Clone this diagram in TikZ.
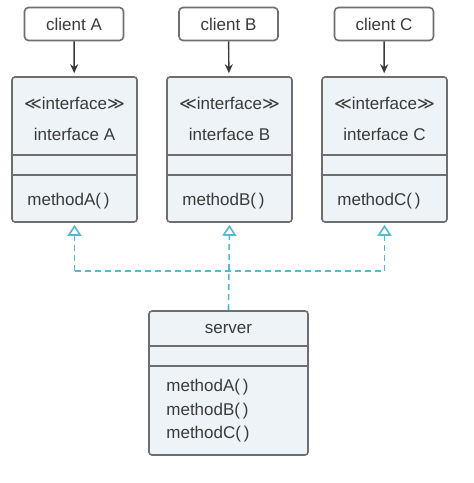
\documentclass[tikz,border=0pt]{standalone}
\usepackage{fontspec}
\setmainfont{Liberation Sans}
\newfontfamily\symfont{DejaVu Sans}
\usetikzlibrary{arrows.meta, calc}
\definecolor{boxfill}{HTML}{EEF3F7}
\definecolor{boxline}{HTML}{6E6E6E}
\definecolor{textcol}{HTML}{3A3A3A}
\definecolor{dashcol}{HTML}{55B9D2}
\newcommand{\stereo}{{\symfont\char"226A}interface{\symfont\char"226B}}

\begin{document}
\begin{tikzpicture}[x=1pt, y=-1pt, font=\fontsize{17}{20}\selectfont, text=textcol,
	clientbox/.style={draw=boxline, line width=1.6pt, rounded corners=4pt, fill=white,
		minimum width=99pt, minimum height=33pt, inner sep=0pt},
	ifacebox/.style={draw=boxline, line width=1.6pt, rounded corners=3pt, fill=boxfill,
		minimum width=125pt, minimum height=145pt, inner sep=0pt},
	serverbox/.style={draw=boxline, line width=1.6pt, rounded corners=3pt, fill=boxfill,
		minimum width=159pt, minimum height=144pt, inner sep=0pt},
	divider/.style={draw=boxline, line width=1.5pt},
	label/.style={inner sep=0pt},
	uses/.style={draw=textcol, -{Stealth[length=9pt, width=8pt]}, line width=1.4pt, shorten >=3pt},
	dashline/.style={draw=dashcol, line width=1.6pt, dash pattern=on 6pt off 4pt},
	realize/.style={dashline, -{Triangle[open, length=11pt, width=14pt, line width=1.6pt]}, shorten >=2pt}]
	\useasboundingbox (0,0) rectangle (474,483);

%	clients
	\node[clientbox] (clA) at (74,24) {client A};
	\node[clientbox] (clB) at (228.5,24) {client B};
	\node[clientbox] (clC) at (384,24) {client C};

%	interfaces
	\node[ifacebox] (ifA) at (74.5,149.5) {};
	\node[ifacebox] (ifB) at (229.5,149.5) {};
	\node[ifacebox] (ifC) at (384.5,149.5) {};
	\draw[divider] ($(ifA.north west)+(0,79)$) -- ($(ifA.north east)+(0,79)$);
	\draw[divider] ($(ifA.north west)+(0,99)$) -- ($(ifA.north east)+(0,99)$);
	\draw[divider] ($(ifB.north west)+(0,79)$) -- ($(ifB.north east)+(0,79)$);
	\draw[divider] ($(ifB.north west)+(0,99)$) -- ($(ifB.north east)+(0,99)$);
	\draw[divider] ($(ifC.north west)+(0,79)$) -- ($(ifC.north east)+(0,79)$);
	\draw[divider] ($(ifC.north west)+(0,99)$) -- ($(ifC.north east)+(0,99)$);
	\node[label] (stA) at ($(ifA.north)+(0,27)$) {\stereo};
	\node[label] (stB) at ($(ifB.north)+(0,27)$) {\stereo};
	\node[label] (stC) at ($(ifC.north)+(0,27)$) {\stereo};
	\node[label] (nmA) at ($(ifA.north)+(0,58)$) {interface A};
	\node[label] (nmB) at ($(ifB.north)+(0,58)$) {interface B};
	\node[label] (nmC) at ($(ifC.north)+(0,58)$) {interface C};
	\node[label, anchor=west] (mtA) at ($(ifA.south west)+(16,-22)$) {methodA(\,)};
	\node[label, anchor=west] (mtB) at ($(ifB.south west)+(16,-22)$) {methodB(\,)};
	\node[label, anchor=west] (mtC) at ($(ifC.south west)+(16,-22)$) {methodC(\,)};

%	server
	\node[serverbox] (srv) at (228.5,383) {};
	\draw[divider] ($(srv.north west)+(0,36)$) -- ($(srv.north east)+(0,36)$);
	\draw[divider] ($(srv.north west)+(0,56)$) -- ($(srv.north east)+(0,56)$);
	\node[label] (srvname) at ($(srv.north)+(0,19)$) {server};
	\node[label, anchor=west, align=left, font=\fontsize{17}{23.5}\selectfont] (srvmt)
		at ($(srv.west)+(18,28)$) {methodA(\,)\\methodB(\,)\\methodC(\,)};

%	client -> interface
	\draw[uses] (clA) -- (ifA);
	\draw[uses] (clB) -- (ifB);
	\draw[uses] (clC) -- (ifC);

%	realization
	\coordinate (jA) at (ifA.south |- 0,271);
	\coordinate (jC) at (ifC.south |- 0,271);
	\draw[dashline] (jA) -- (jC);
	\draw[realize] (jA) -- (ifA.south);
	\draw[realize] (jC) -- (ifC.south);
	\draw[realize] (srv.north) -- (ifB.south);

\end{tikzpicture}
\end{document}
